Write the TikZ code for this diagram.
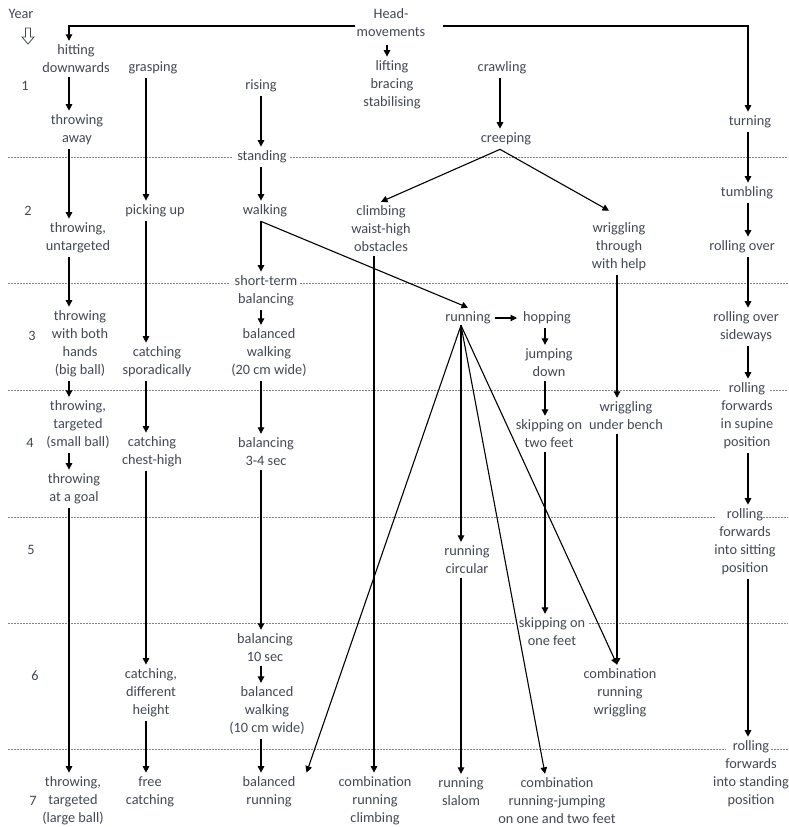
\documentclass[tikz,border=0pt]{standalone}
\usepackage{fontspec}
\setmainfont{Carlito}
\usetikzlibrary{arrows.meta,calc}
\definecolor{txt}{RGB}{66,72,84}
\definecolor{gridc}{RGB}{130,130,130}
\begin{document}
\begin{tikzpicture}[x=1pt,y=-1pt,
  lbl/.style={align=center,inner xsep=1pt,inner ysep=4pt,text=txt,font=\fontsize{14.3}{18}\selectfont},
  arr/.style={-{Triangle[length=6.5pt,width=6.5pt]},line width=1.1pt},
  gridline/.style={draw=gridc,line width=0.7pt,dash pattern=on 2pt off 1pt}]
\useasboundingbox (0,0) rectangle (788,827);
% year grid lines
\foreach \y/\a/\b in {157/233/290, 283/229/300, 390/720/770, 517/716/763, 623/514/589, 749/726/771} {
  \draw[gridline] (8,\y) -- (\a,\y);
  \draw[gridline] (\b,\y) -- (788,\y);
}
% column coordinates
\coordinate (cA) at (69,0);
\coordinate (cB) at (146,0);
\coordinate (cC) at (261,0);
\coordinate (cD) at (374,0);
\coordinate (cHead) at (387,0);
\coordinate (cE) at (500,0);
\coordinate (cF) at (461,0);
\coordinate (cG) at (545,0);
\coordinate (cH) at (617,0);
\coordinate (cI) at (748,0);
% year labels
\node[lbl] (year) at (21,14) {Year};
\draw[line width=0.8pt,draw=txt] (25.5,28) -- (30.5,28) -- (30.5,37) -- (34,37) -- (28,44) -- (22,37) -- (25.5,37) -- cycle;
\node[lbl] (y1) at (25,86) {1};
\node[lbl] (y2) at (28,211) {2};
\node[lbl] (y3) at (32,336) {3};
\node[lbl] (y4) at (30,443) {4};
\node[lbl] (y5) at (31,550) {5};
\node[lbl] (y6) at (35,676) {6};
\node[lbl] (y7) at (33,801) {7};
% column: throwing
\node[lbl] (hit) at (76,59) {hitting\\downwards};
\node[lbl] (thraway) at (77,130) {throwing\\away};
\node[lbl] (thrun) at (78,238) {throwing,\\untargeted};
\node[lbl] (thrboth) at (80,344) {throwing\\with both\\hands\\(big ball)};
\node[lbl] (thrsmall) at (78,425) {throwing,\\targeted\\(small ball)};
\node[lbl] (thrgoal) at (74,489) {throwing\\at a goal};
\node[lbl] (thrlarge) at (73,801) {throwing,\\targeted\\(large ball)};
% column: catching
\node[lbl] (grasp) at (153,68) {grasping};
\node[lbl] (pick) at (155,211) {picking up};
\node[lbl] (catchspor) at (157,362) {catching\\sporadically};
\node[lbl] (catchchest) at (152,452) {catching\\chest-high};
\node[lbl] (catchdiff) at (151,693) {catching,\\different\\height};
\node[lbl] (free) at (150,792) {free\\catching};
% column: balancing
\node[lbl] (rising) at (261,86) {rising};
\node[lbl] (standing) at (262,157) {standing};
\node[lbl] (walking) at (265,211) {walking};
\node[lbl] (shortterm) at (266,291) {short-term\\balancing};
\node[lbl] (balwalkA) at (269,353) {balanced\\walking\\(20 cm wide)};
\node[lbl] (balA) at (266,452) {balancing\\3-4 sec};
\node[lbl] (balB) at (265,648) {balancing\\10 sec};
\node[lbl] (balwalkB) at (267,711) {balanced\\walking\\(10 cm wide)};
\node[lbl] (balrun) at (269,792) {balanced\\running};
% climbing
\node[lbl] (climb) at (381,229) {climbing\\waist-high\\obstacles};
\node[lbl] (combclimb) at (375,801) {combination\\running\\climbing};
% head
\node[lbl] (head) at (391,23) {Head-\\movements};
\node[lbl] (lift) at (392,85) {lifting\\bracing\\stabilising};
% crawling
\node[lbl] (crawl) at (502,68) {crawling};
\node[lbl] (creep) at (506,139) {creeping};
% wriggling
\node[lbl] (wrigthrough) at (619,247) {wriggling\\through\\with help};
\node[lbl] (wrigbench) at (626,416) {wriggling\\under bench};
\node[lbl] (combwrig) at (620,693) {combination\\running\\wriggling};
% running
\node[lbl] (running) at (468,318) {running};
\node[lbl] (hopping) at (547,318) {hopping};
\node[lbl] (jumpdown) at (549,363) {jumping\\down};
\node[lbl] (skiptwo) at (549,434) {skipping on\\two feet};
\node[lbl] (skipone) at (552,632) {skipping on\\one feet};
\node[lbl] (runcirc) at (467,560) {running\\circular};
\node[lbl] (runslalom) at (461,792) {running\\slalom};
\node[lbl] (combjump) at (557,801) {combination\\running-jumping\\on one and two feet};
% rolling
\node[lbl] (turning) at (750,122) {turning};
\node[lbl] (tumbling) at (747,193) {tumbling};
\node[lbl] (rollover) at (742,247) {rolling over};
\node[lbl] (rollside) at (746,327) {rolling over\\sideways};
\node[lbl] (rollsupine) at (747,416) {rolling\\forwards\\in supine\\position};
\node[lbl] (rollsit) at (745,542) {rolling\\forwards\\into sitting\\position};
\node[lbl] (rollstand) at (751,774) {rolling\\forwards\\into standing\\position};
% connectors
\foreach \a/\b in {hit/thraway,thraway/thrun,thrun/thrboth,thrboth/thrsmall,thrsmall/thrgoal,thrgoal/thrlarge}
  \draw[arr] (\a.south -| cA) -- (\b.north -| cA);
\foreach \a/\b in {grasp/pick,pick/catchspor,catchspor/catchchest,catchchest/catchdiff,catchdiff/free}
  \draw[arr] (\a.south -| cB) -- (\b.north -| cB);
\foreach \a/\b in {rising/standing,standing/walking,walking/shortterm,shortterm/balwalkA,balwalkA/balA,balA/balB,balB/balwalkB,balwalkB/balrun}
  \draw[arr] (\a.south -| cC) -- (\b.north -| cC);
\draw[arr] (climb.south -| cD) -- (combclimb.north -| cD);
\draw[arr] (crawl.south -| cE) -- (creep.north -| cE);
\foreach \a/\b in {wrigthrough/wrigbench,wrigbench/combwrig}
  \draw[arr] (\a.south -| cH) -- (\b.north -| cH);
\foreach \a/\b in {hopping/jumpdown,jumpdown/skiptwo,skiptwo/skipone}
  \draw[arr] (\a.south -| cG) -- (\b.north -| cG);
\foreach \a/\b in {turning/tumbling,tumbling/rollover,rollover/rollside,rollside/rollsupine,rollsupine/rollsit,rollsit/rollstand}
  \draw[arr] (\a.south -| cI) -- (\b.north -| cI);
\draw[arr] ([yshift=-3pt]head.west) -| (hit.north -| cA);
\draw[arr] ([xshift=16pt,yshift=-3pt]head.east) -| (turning.north -| cI);
\draw[arr,shorten <=4pt] (head.south -| cHead) -- (lift.north -| cHead);
\draw[arr] (walking.south -| cC) -- (running.north);
\draw[arr] (creep.south -| cE) -- (climb.north);
\draw[arr] (creep.south -| cE) -- ([shift={(-10pt,8pt)}]wrigthrough.north);
\draw[arr,shorten <=3pt,shorten >=5pt] (running.east) -- (hopping.west);
\coordinate (fan) at ([yshift=3pt]running.south -| cF);
\draw[arr] (fan) -- ([xshift=10pt]balrun.north east);
\draw[arr] (fan) -- (runcirc.north -| cF);
\draw[arr] (fan) -- (combjump.north -| cG);
\draw[arr] (fan) -- (combwrig.north -| cH);
\draw[arr] (runcirc.south -| cF) -- (runslalom.north -| cF);
\end{tikzpicture}
\end{document}
